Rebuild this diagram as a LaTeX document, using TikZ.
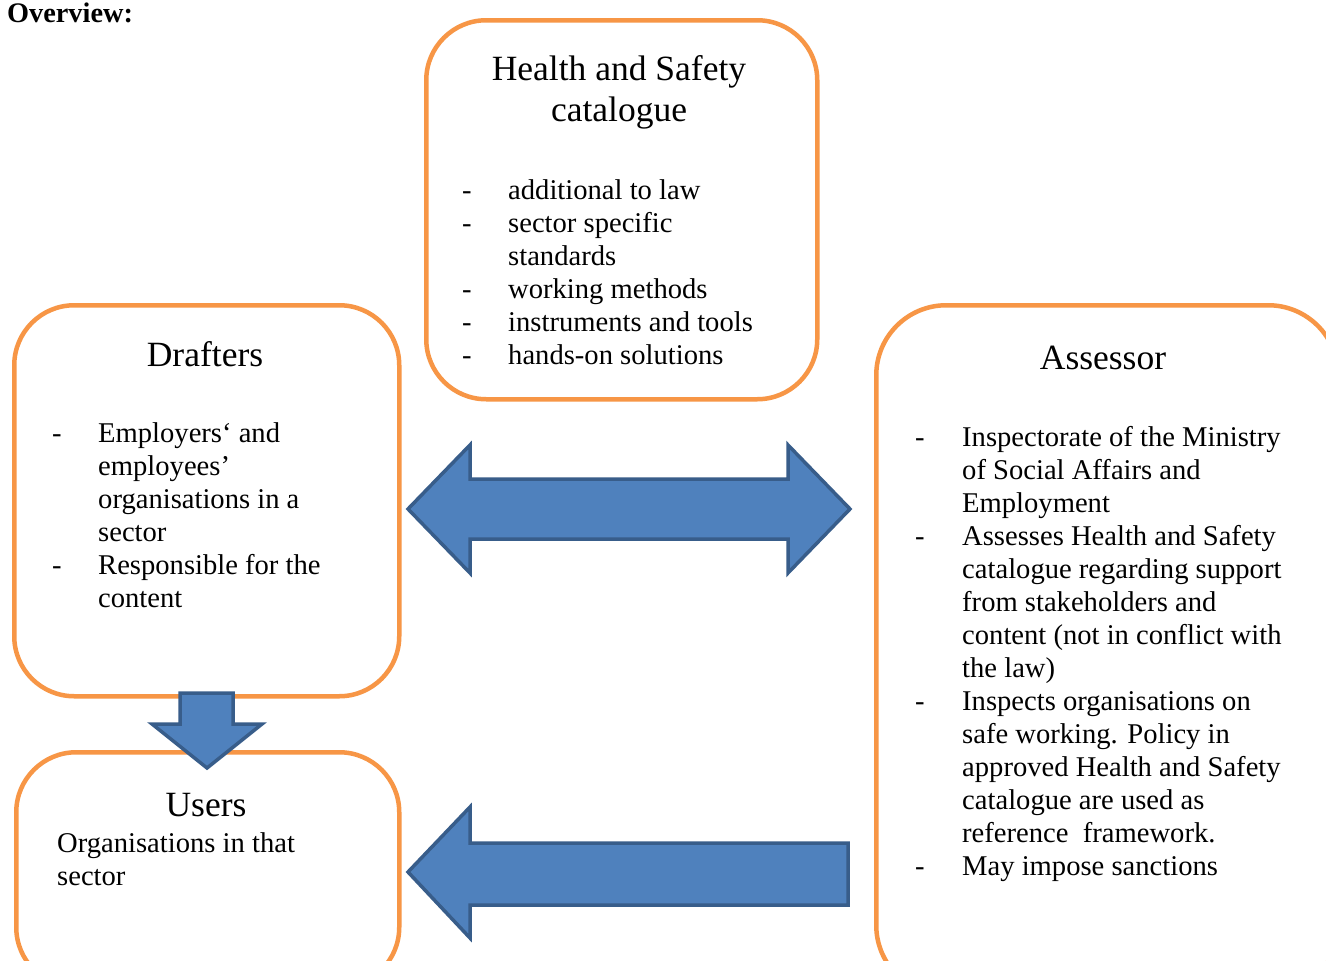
\documentclass[tikz,border=0pt]{standalone}
\usepackage{fontspec}
\setmainfont{Liberation Serif}
\definecolor{boxorange}{HTML}{F79646}
\definecolor{arrowfill}{HTML}{4F81BD}
\definecolor{arrowline}{HTML}{385D8A}
\tikzset{
  box/.style={draw=boxorange, line width=4.5pt, rounded corners=60pt, fill=white, anchor=north west, inner sep=0pt},
  blockarrow/.style={fill=arrowfill, draw=arrowline, line width=3.5pt, line join=miter},
  txt/.style={inner sep=0pt, anchor=base west, font=\fontsize{28.6}{33}\selectfont},
  ttl/.style={inner sep=0pt, anchor=base, font=\fontsize{35.5}{40}\selectfont},
}
\begin{document}
\begin{tikzpicture}[x=1pt,y=-1pt]
\useasboundingbox (0,0) rectangle (1326,961);
\clip (0,0) rectangle (1326,961);
\fill[white] (0,0) rectangle (1326,961);

% boxes
\node[box, minimum width=391pt, minimum height=379pt] (hsbox) at (424,18) {};
\node[box, minimum width=385pt, minimum height=391pt] (drbox) at (12,303) {};
\node[box, minimum width=383pt, minimum height=235pt] (usbox) at (14,750) {};
\node[box, minimum width=462pt, minimum height=690pt, rounded corners=70pt] (asbox) at (874,303) {};

% overview
\node[inner sep=0pt, anchor=base west, font=\fontsize{28.3}{32}\selectfont\bfseries] (ov) at (7,22) {Overview:};

% Health and safety catalogue
\node[ttl] (hst1) at (619,80) {Health and Safety};
\node[ttl] (hst2) at (619,121) {catalogue};
\node[txt] (hsd1) at (462,199) {-};
\node[txt] (hsl1) at (508,199) {additional to law};
\node[txt] (hsd2) at (462,232) {-};
\node[txt] (hsl2) at (508,232) {sector specific};
\node[txt] (hsl3) at (508,265) {standards};
\node[txt] (hsd4) at (462,298) {-};
\node[txt] (hsl4) at (508,298) {working methods};
\node[txt] (hsd5) at (462,331) {-};
\node[txt] (hsl5) at (508,331) {instruments and tools};
\node[txt] (hsd6) at (462,364) {-};
\node[txt] (hsl6) at (508,364) {hands-on solutions};

% Drafters
\node[ttl] (drt) at (205,366) {Drafters};
\node[txt] (drd1) at (52,442) {-};
\node[txt] (drl1) at (98,442) {Employers‘ and};
\node[txt] (drl2) at (98,475) {employees’};
\node[txt] (drl3) at (98,508) {organisations in a};
\node[txt] (drl4) at (98,541) {sector};
\node[txt] (drd5) at (52,574) {-};
\node[txt] (drl5) at (98,574) {Responsible for the};
\node[txt] (drl6) at (98,607) {content};

% Users
\node[ttl] (ust) at (206,816) {Users};
\node[txt] (usl1) at (57,852) {Organisations in that};
\node[txt] (usl2) at (57,885) {sector};

% Assessor
\node[ttl] (ast) at (1103,369) {Assessor};
\node[txt] (asd1) at (915,446) {-};
\node[txt] (asl1) at (962,446) {Inspectorate of the Ministry};
\node[txt] (asl2) at (962,479) {of Social Affairs and};
\node[txt] (asl3) at (962,512) {Employment};
\node[txt] (asd4) at (915,545) {-};
\node[txt] (asl4) at (962,545) {Assesses Health and Safety};
\node[txt] (asl5) at (962,578) {catalogue regarding support};
\node[txt] (asl6) at (962,611) {from stakeholders and};
\node[txt] (asl7) at (962,644) {content (not in conflict with};
\node[txt] (asl8) at (962,677) {the law)};
\node[txt] (asd9) at (915,710) {-};
\node[txt] (asl9) at (962,710) {Inspects organisations on};
\node[txt] (asl10) at (962,743) {safe working. Policy in};
\node[txt] (asl11) at (962,776) {approved Health and Safety};
\node[txt] (asl12) at (962,809) {catalogue are used as};
\node[txt] (asl13) at (962,842) {reference\ \ framework.};
\node[txt] (asd14) at (915,875) {-};
\node[txt] (asl14) at (962,875) {May impose sanctions};

% block arrows
\draw[blockarrow] (408,509) -- (470,445) -- (470,479) -- (788,479) -- (788,445) -- (850,509)
  -- (788,573) -- (788,539) -- (470,539) -- (470,573) -- cycle;
\draw[blockarrow] (408,872) -- (470,807) -- (470,843) -- (848,843) -- (848,905) -- (470,905)
  -- (470,938) -- cycle;
\draw[blockarrow] (180,693) -- (233,693) -- (233,724) -- (262,724) -- (207,768) -- (152,724)
  -- (180,724) -- cycle;
\end{tikzpicture}
\end{document}
